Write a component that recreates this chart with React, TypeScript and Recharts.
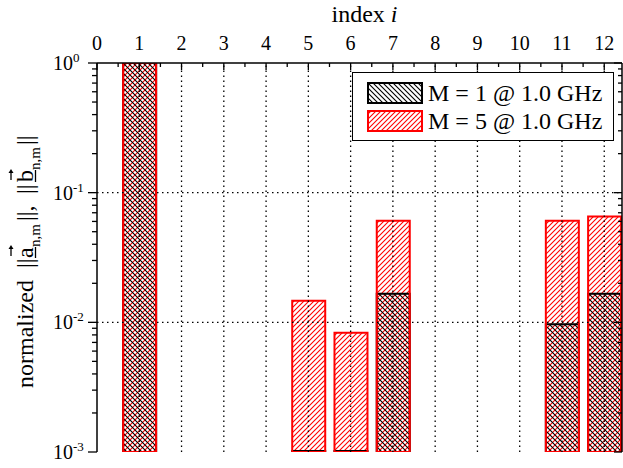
import React from 'react';
import { BarChart, Bar, XAxis, YAxis, ReferenceLine } from 'recharts';

// ---- data ----
const indexValues = [1, 5, 6, 7, 11, 12];
const m1Values = [1.0, 0.00102, 0.00102, 0.0166, 0.00966, 0.0166];
const m5Values = [1.0, 0.0147, 0.0083, 0.0606, 0.0606, 0.0654];
const seriesNames = ['M = 1 @ 1.0 GHz', 'M = 5 @ 1.0 GHz'];
const xMajorTicks = [0, 1, 2, 3, 4, 5, 6, 7, 8, 9, 10, 11, 12];
const yMajorTicks = [0.001, 0.01, 0.1, 1];
const xGridLines = [1, 2, 3, 4, 5, 6, 7, 8, 9, 10, 11, 12];
const yGridLines = [0.01, 0.1];
const xDomain: [number, number] = [0, 12.42];
const yDomain: [number, number] = [0.001, 1];

const data = indexValues.map((index, k) => ({ index, m1: m1Values[k], m5: m5Values[k] }));
const xAllTicks = [...xMajorTicks, ...xMajorTicks.map((t) => t + 0.5)]
  .filter((t) => t <= xDomain[1])
  .sort((a, b) => a - b);
const yAllTicks = yMajorTicks.flatMap((d, i) =>
  i < yMajorTicks.length - 1 ? [1, 2, 3, 4, 5, 6, 7, 8, 9].map((m) => d * m) : [d]
);

const FONT = "'Liberation Serif', 'Times New Roman', serif";
const isMajorY = (v: number) => Math.abs(Math.log10(v) - Math.round(Math.log10(v))) < 1e-6;
const isMajorX = (v: number) => Math.abs(v - Math.round(v)) < 1e-6;

const LeftTick = (p: any) => {
  const v = p.payload.value;
  const major = isMajorY(v);
  const x = p.x;
  const y = p.y;
  return (
    <g>
      <line x1={x - (major ? 9 : 5)} x2={x} y1={y} y2={y} stroke="#000" strokeWidth={1.3} />
      {major && (
        <text x={x - 44} y={y + 7} textAnchor="start" fontSize={20} fontFamily={FONT} fill="#000">
          10
          <tspan dy={-8} fontSize={13}>
            {String(Math.round(Math.log10(v)))}
          </tspan>
        </text>
      )}
    </g>
  );
};

const RightTick = (p: any) => {
  const v = p.payload.value;
  const major = isMajorY(v);
  const x = p.x;
  const y = p.y;
  return <line x1={x - (major ? 8 : 4)} x2={x} y1={y} y2={y} stroke="#000" strokeWidth={1.3} />;
};

const TopTick = (p: any) => {
  const v = p.payload.value;
  const major = isMajorX(v);
  const x = p.x;
  const y = p.y;
  return (
    <g>
      <line x1={x} x2={x} y1={y} y2={y + (major ? 7 : 4)} stroke="#000" strokeWidth={1.3} />
      {major && (
        <text x={x} y={y - 13} textAnchor="middle" fontSize={20} fontFamily={FONT} fill="#000">
          {String(Math.round(v))}
        </text>
      )}
    </g>
  );
};

const TopTitle = (props: any) => {
  const vb = props.viewBox || { x: 97, width: 525 };
  return (
    <text x={vb.x + vb.width / 2 + 5} y={22} textAnchor="middle" fontSize={24} fontFamily={FONT} fill="#000">
      index <tspan fontStyle="italic">i</tspan>
    </text>
  );
};

const Arrow = ({ u }: { u: number }) => (
  <g>
    <line x1={u - 5} x2={u + 4} y1={-22} y2={-22} stroke="#000" strokeWidth={1.3} />
    <path d={`M${u + 6},-22 L${u + 2},-24.5 L${u + 2},-19.5 Z`} fill="#000" />
  </g>
);

const YTitle = () => {
  const fs = 24;
  const sub = 15;
  const sdy = 7;
  return (
    <g transform="translate(33,262) rotate(-90)" fontFamily={FONT} fill="#000">
      <text x={-126} y={0} fontSize={fs}>normalized</text>
      <text x={-6} y={0} fontSize={fs}>||</text>
      <text x={4} y={0} fontSize={fs}>a</text>
      <text x={15} y={sdy} fontSize={sub}>n,m</text>
      <text x={41} y={0} fontSize={fs}>||,</text>
      <text x={68} y={0} fontSize={fs}>||</text>
      <text x={80} y={0} fontSize={fs}>b</text>
      <text x={92} y={sdy} fontSize={sub}>n,m</text>
      <text x={117} y={0} fontSize={fs}>||</text>
      <line x1={4} x2={15} y1={2.5} y2={2.5} stroke="#000" strokeWidth={1.3} />
      <line x1={80} x2={92} y1={2.5} y2={2.5} stroke="#000" strokeWidth={1.3} />
      <Arrow u={11} />
      <Arrow u={87} />
    </g>
  );
};

const Swatch = ({ pattern, color }: { pattern: string; color: string }) => (
  <svg width={56} height={22} style={{ position: 'absolute', left: 0, top: 0 }}>
    <rect x={1} y={1} width={54} height={20} fill={`url(#${pattern})`} stroke={color} strokeWidth={2} />
  </svg>
);

export default function App() {
  return (
    <div style={{ position: 'absolute', left: 0, top: 0, width: 623, height: 468, background: '#fff', overflow: 'hidden' }}>
      <svg width={0} height={0} style={{ position: 'absolute' }}>
        <defs>
          <pattern id="redHatch" patternUnits="userSpaceOnUse" width={5} height={5}>
            <path d="M-1,1 L1,-1 M0,5 L5,0 M4,6 L6,4" stroke="#ff0000" strokeWidth={1.1} />
          </pattern>
          <pattern id="blackHatch" patternUnits="userSpaceOnUse" width={5} height={5}>
            <path d="M-1,4 L1,6 M0,0 L5,5 M4,-1 L6,1" stroke="#000" strokeWidth={1.1} />
          </pattern>
        </defs>
      </svg>
      <BarChart width={623} height={468} data={data} margin={{ top: 30, right: 0, bottom: 16, left: 0 }}>
        <XAxis
          xAxisId="top"
          orientation="top"
          type="number"
          dataKey="index"
          domain={xDomain}
          allowDataOverflow
          ticks={xAllTicks}
          interval={0}
          height={33}
          tickSize={0}
          tickMargin={0}
          tickLine={false}
          axisLine={{ stroke: '#000', strokeWidth: 1.5 }}
          tick={<TopTick />}
          label={(p: any) => <TopTitle {...p} />}
        />
        <XAxis xAxisId="b1" type="number" dataKey="index" domain={xDomain} allowDataOverflow ticks={xMajorTicks} hide />
        <XAxis xAxisId="b2" type="number" dataKey="index" domain={xDomain} allowDataOverflow ticks={xMajorTicks} hide />
        <XAxis xAxisId="b3" type="number" dataKey="index" domain={xDomain} allowDataOverflow ticks={xMajorTicks} hide />
        <YAxis
          yAxisId="left"
          scale="log"
          type="number"
          domain={yDomain}
          allowDataOverflow
          ticks={yAllTicks}
          interval={0}
          width={97}
          tickSize={0}
          tickMargin={0}
          tickLine={false}
          axisLine={{ stroke: '#000', strokeWidth: 1.5 }}
          tick={<LeftTick />}
          label={() => <YTitle />}
        />
        <YAxis
          yAxisId="right"
          orientation="right"
          scale="log"
          type="number"
          domain={yDomain}
          allowDataOverflow
          ticks={yAllTicks}
          interval={0}
          width={1}
          tickSize={0}
          tickMargin={0}
          tickLine={false}
          axisLine={{ stroke: '#000', strokeWidth: 1.5 }}
          tick={<RightTick />}
        />
        <Bar xAxisId="b1" yAxisId="left" dataKey="m5" name={seriesNames[1]} barSize={33} fill="url(#redHatch)" isAnimationActive={false} />
        <Bar xAxisId="b2" yAxisId="left" dataKey="m1" name={seriesNames[0]} barSize={33} fill="url(#blackHatch)" stroke="#000" strokeWidth={2} isAnimationActive={false} />
        <Bar xAxisId="b3" yAxisId="left" dataKey="m5" name={seriesNames[1]} barSize={33} fill="none" stroke="#ff0000" strokeWidth={2} isAnimationActive={false} />
        {xGridLines.map((v) => (
          <ReferenceLine key={'x' + v} xAxisId="b1" yAxisId="left" x={v} stroke="#000" strokeWidth={1.3} strokeDasharray="1.5 3.5" />
        ))}
        {yGridLines.map((v) => (
          <ReferenceLine key={'y' + v} xAxisId="b1" yAxisId="left" y={v} stroke="#000" strokeWidth={1.3} strokeDasharray="1.5 3.5" />
        ))}
      </BarChart>
      <div
        style={{
          position: 'absolute',
          left: 352,
          top: 72,
          width: 260,
          height: 67,
          border: '1px solid #000',
          background: '#fff',
          fontFamily: FONT,
          fontSize: 24,
          color: '#000',
        }}
      >
        <div style={{ position: 'absolute', left: 14, top: 9, width: 56, height: 22 }}>
          <Swatch pattern="blackHatch" color="#000" />
        </div>
        <div style={{ position: 'absolute', left: 75, top: 8, lineHeight: '24px', whiteSpace: 'nowrap' }}>{seriesNames[0]}</div>
        <div style={{ position: 'absolute', left: 14, top: 37, width: 56, height: 22 }}>
          <Swatch pattern="redHatch" color="#ff0000" />
        </div>
        <div style={{ position: 'absolute', left: 75, top: 36, lineHeight: '24px', whiteSpace: 'nowrap' }}>{seriesNames[1]}</div>
      </div>
    </div>
  );
}
